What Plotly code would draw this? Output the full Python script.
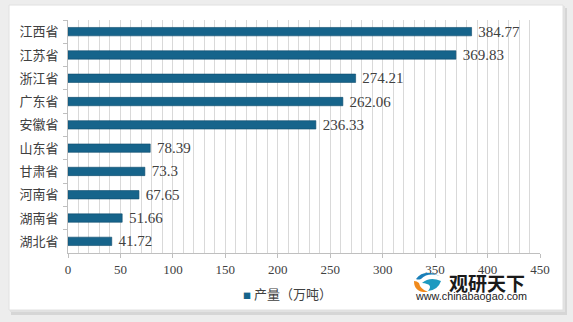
import plotly.graph_objects as go

# Output of each province (10k tonnes)
provinces = ["江西省", "江苏省", "浙江省", "广东省", "安徽省",
             "山东省", "甘肃省", "河南省", "湖南省", "湖北省"]
output = [384.77, 369.83, 274.21, 262.06, 236.33, 78.39, 73.3, 67.65, 51.66, 41.72]
series_name = "产量（万吨）"
x_ticks = [0, 50, 100, 150, 200, 250, 300, 350, 400, 450]

W, H = 573, 322
L, R, T, B = 68, 33, 20, 69
PW, PH = W - L - R, H - T - B


def px(x):
    return (x - L) / PW


def py(y):
    return (H - B - y) / PH


BAR = "#16648b"
CJK = "Noto Sans CJK SC"
NUM = "Liberation Serif"

fig = go.Figure()
fig.add_trace(go.Bar(
    y=provinces, x=output, orientation="h", width=0.36, name=series_name,
    marker=dict(color=BAR, line=dict(color="#0e4c6b", width=0.6)),
    text=[str(v) for v in output], texttemplate=" %{text}", textposition="outside",
    textfont=dict(family=NUM, size=15, color="#404040"),
    outsidetextfont=dict(family=NUM, size=15, color="#404040"),
    constraintext="none", cliponaxis=False, showlegend=False,
))

shapes = [
    # card shadow and card
    dict(type="rect", xref="paper", yref="paper", layer="below",
         x0=px(11), x1=px(567), y0=py(8), y1=py(315),
         fillcolor="#d6d6d6", line=dict(width=0)),
    dict(type="rect", xref="paper", yref="paper", layer="below",
         x0=px(10), x1=px(565), y0=py(6), y1=py(312),
         fillcolor="#e2e2e2", line=dict(width=0)),
    dict(type="rect", xref="paper", yref="paper", layer="below",
         x0=px(9), x1=px(563), y0=py(5), y1=py(310),
         fillcolor="white", line=dict(color="#e0e0e0", width=1)),
]


def blob(p):
    a, b, c, d, e, f, g, h, i, j, k, l = p
    return "M {},{} Q {},{} {},{} Q {},{} {},{} Q {},{} {},{} Z".format(
        px(a), py(b), px(c), py(d), px(e), py(f),
        px(g), py(h), px(i), py(j), px(k), py(l), px(a), py(b))


# logo swirl
shapes += [
    dict(type="path", xref="paper", yref="paper",
         path=blob([414, 281, 414, 293, 428, 292, 420, 289, 419, 283, 417, 281]),
         fillcolor="#f08a1c", line=dict(width=0)),
    dict(type="path", xref="paper", yref="paper",
         path=blob([416, 279, 424, 268, 440, 276, 428, 272, 421, 279, 418, 280]),
         fillcolor="#1a7fb8", line=dict(width=0)),
    dict(type="path", xref="paper", yref="paper",
         path=blob([422, 283, 430, 276, 441, 281, 438, 290, 428, 291, 434, 284]),
         fillcolor="#1e9ac0", line=dict(width=0)),
]

annotations = [
    # series key
    dict(text="<span style='color:%s;font-size:8px'>■</span> %s" % (BAR, series_name),
         xref="paper", yref="paper", x=px(287), y=py(293),
         xanchor="center", yanchor="middle", showarrow=False,
         font=dict(family=CJK, size=13, color="#404040")),
    dict(text="<b>观研天下</b>", xref="paper", yref="paper", x=px(447), y=py(282),
         xanchor="left", yanchor="middle", showarrow=False,
         font=dict(family=CJK, size=19, color="#1a1a1a")),
    dict(text="www.chinabaogao.com", xref="paper", yref="paper", x=px(413), y=py(296),
         xanchor="left", yanchor="middle", showarrow=False,
         font=dict(family="Liberation Sans", size=10.8, color="#222222")),
]

fig.update_layout(
    width=W, height=H, margin=dict(l=L, r=R, t=T, b=B),
    paper_bgcolor="#ededed", plot_bgcolor="#f6f6f6",
    shapes=shapes, annotations=annotations,
    showlegend=False,
    xaxis=dict(range=[0, 450], tickvals=x_ticks, ticktext=[str(v) for v in x_ticks],
               showgrid=True, gridcolor="#d9d9d9", gridwidth=1,
               minor=dict(dtick=10, showgrid=True, gridcolor="#d9d9d9", gridwidth=1),
               showline=True, linecolor="#bfbfbf", linewidth=1,
               ticks="outside", ticklen=4, tickcolor="#bfbfbf",
               tickfont=dict(family=NUM, size=13, color="#404040"),
               zeroline=False, fixedrange=True),
    yaxis=dict(categoryorder="array", categoryarray=provinces, autorange="reversed",
               showline=True, linecolor="#bfbfbf", linewidth=1,
               ticks="outside", ticklen=4, tickcolor="#bfbfbf", tickson="boundaries",
               showgrid=False, ticklabelstandoff=6,
               tickfont=dict(family=CJK, size=13, color="#404040"),
               fixedrange=True),
)

fig.write_html("out.html")
